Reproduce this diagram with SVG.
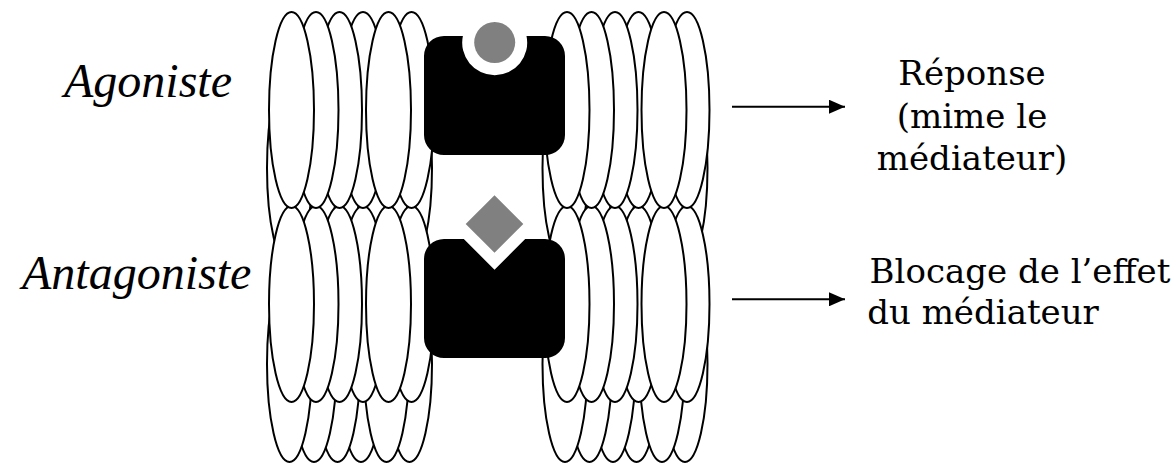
<svg xmlns="http://www.w3.org/2000/svg" width="1176" height="464" viewBox="0 0 1176 464">
  <style>
    .lip { fill: #ffffff; stroke: #000000; stroke-width: 2; }
    .rec { fill: #000000; }
    .lig { fill: #808080; }
    .side { font-family: "Liberation Serif", "Times New Roman", serif; font-style: italic; font-size: 48px; fill: #000; }
    .out { font-family: "DejaVu Serif", "Liberation Serif", serif; font-size: 34px; fill: #000; text-anchor: middle; }
    .arrow { stroke: #000; stroke-width: 2; fill: none; marker-end: url(#head); }
  </style>
  <defs>
    <marker id="head" markerUnits="userSpaceOnUse" markerWidth="16" markerHeight="14" refX="16" refY="7" orient="auto">
      <path d="M0,0 L16,7 L0,14 Z" fill="#000"/>
    </marker>
    <!-- one row of six lipid heads; left ones stacked over right ones -->
    <g id="row">
      <ellipse class="lip" cx="363" cy="0" rx="22.5" ry="98"/>
      <ellipse class="lip" cx="339.5" cy="0" rx="22.5" ry="98"/>
      <ellipse class="lip" cx="316" cy="0" rx="22.5" ry="98"/>
      <ellipse class="lip" cx="291.5" cy="0" rx="22.5" ry="98"/>
      <ellipse class="lip" cx="411.5" cy="0" rx="22.5" ry="98"/>
      <ellipse class="lip" cx="388.5" cy="0" rx="22.5" ry="98"/>
    </g>
  </defs>

  <!-- membrane, left of the receptors -->
  <g id="membrane-left">
    <use href="#row" x="-2" y="364"/>
    <use href="#row" x="-2" y="168"/>
    <use href="#row" x="0" y="304"/>
    <use href="#row" x="0" y="110"/>
  </g>

  <!-- membrane, right of the receptors -->
  <g id="membrane-right">
    <use href="#row" x="273.5" y="364"/>
    <use href="#row" x="273.5" y="168"/>
    <use href="#row" x="275.5" y="304"/>
    <use href="#row" x="275.5" y="110"/>
  </g>

  <!-- receptor with bound agonist (round ligand in round site) -->
  <g id="receptor-agonist">
    <path class="rec" d="M444,36 H462.9 A32.5,32.5 0 1 0 526.5,36 H545 A20,20 0 0 1 565,56 V135 A20,20 0 0 1 545,155 H444 A20,20 0 0 1 424,135 V56 A20,20 0 0 1 444,36 Z"/>
    <circle class="lig" cx="494.7" cy="42.5" r="20.5"/>
  </g>

  <!-- receptor with antagonist (diamond that does not fit the site) -->
  <g id="receptor-antagonist">
    <path class="rec" d="M444,239 H463.8 L494.5,269.7 L525.2,239 H545 A20,20 0 0 1 565,259 V338 A20,20 0 0 1 545,358 H444 A20,20 0 0 1 424,338 V259 A20,20 0 0 1 444,239 Z"/>
    <path class="lig" d="M494.5,195.3 L523.3,224 L494.5,252.7 L465.7,224 Z"/>
  </g>

  <g id="label-agoniste">
    <text class="side" x="64" y="97">Agoniste</text>
  </g>
  <g id="label-antagoniste">
    <text class="side" x="22" y="289">Antagoniste</text>
  </g>

  <g id="result-agoniste">
    <text class="out" x="972" y="85">Réponse</text>
    <text class="out" x="972" y="128">(mime le</text>
    <text class="out" x="972" y="170">médiateur)</text>
  </g>
  <g id="result-antagoniste">
    <text class="out" x="1020" y="283">Blocage de l’effet</text>
    <text class="out" x="983" y="324">du médiateur</text>
  </g>

  <g id="connectors">
    <line class="arrow" x1="732" y1="106.7" x2="845" y2="106.7"/>
    <line class="arrow" x1="732" y1="299.3" x2="845" y2="299.3"/>
  </g>
</svg>
